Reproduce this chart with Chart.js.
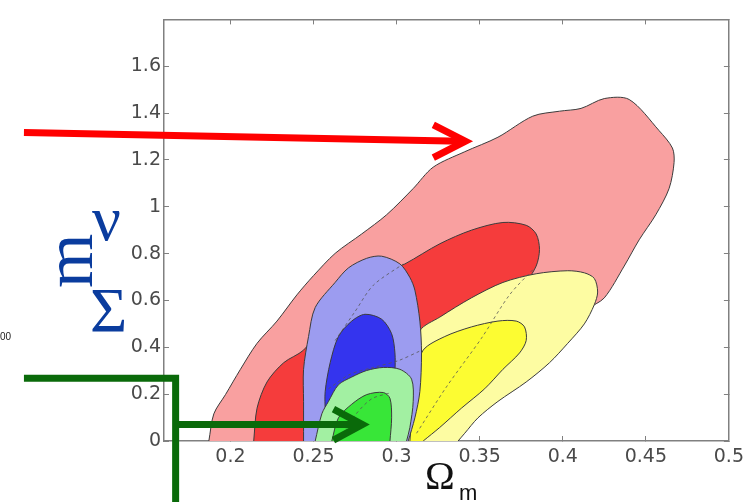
<!DOCTYPE html>
<html>
<head>
<meta charset="UTF-8">
<title>Omega_m vs sum m_nu</title>
<script src="https://cdn.jsdelivr.net/npm/chart.js"></script>
<style>
  body { margin: 0; background: #fff; }
</style>
</head>
<body>
<canvas id="grafico" width="754" height="502"></canvas>
<script>
// contour outlines (x = Omega_m, y = sum m_nu)
const pinkX = [0.187,0.190,0.197,0.206,0.216,0.228,0.240,0.250,0.263,0.279,0.294,0.310,0.322,0.341,0.361,0.382,0.398,0.411,0.425,0.440,0.458,0.466,0.467,0.464,0.456,0.446,0.437,0.425,0.415,0.406,0.392,0.374,0.357,0.339,0.330];
const pinkY = [0,0.116,0.198,0.306,0.417,0.512,0.624,0.706,0.801,0.884,0.966,1.078,1.169,1.235,1.297,1.387,1.408,1.420,1.462,1.458,1.325,1.251,1.189,1.078,0.966,0.859,0.747,0.611,0.562,0.479,0.376,0.273,0.169,0.045,0];

const redX = [0.214,0.216,0.222,0.232,0.244,0.257,0.275,0.292,0.305,0.326,0.345,0.364,0.378,0.384,0.386,0.384,0.378,0.363,0.339,0.322,0.310,0.301,0.295];
const redY = [0,0.140,0.252,0.334,0.388,0.500,0.624,0.714,0.756,0.842,0.900,0.933,0.921,0.884,0.818,0.747,0.685,0.624,0.541,0.458,0.334,0.169,0];

const lightYellowX = [0.304,0.307,0.310,0.314,0.326,0.345,0.364,0.384,0.403,0.413,0.419,0.421,0.419,0.413,0.403,0.392,0.378,0.361,0.349,0.341,0.337];
const lightYellowY = [0,0.169,0.334,0.471,0.529,0.611,0.677,0.714,0.727,0.718,0.694,0.636,0.582,0.500,0.417,0.334,0.252,0.169,0.099,0.033,0];

const yellowX = [0.308,0.310,0.313,0.316,0.329,0.345,0.361,0.372,0.377,0.378,0.374,0.364,0.353,0.339,0.326,0.316];
const yellowY = [0,0.169,0.293,0.388,0.446,0.487,0.512,0.512,0.487,0.429,0.376,0.306,0.223,0.140,0.058,0];

const lightBlueX = [0.244,0.244,0.244,0.247,0.251,0.263,0.271,0.282,0.291,0.302,0.308,0.311,0.314,0.315,0.314,0.311,0.307];
const lightBlueY = [0,0.169,0.306,0.446,0.570,0.677,0.739,0.780,0.789,0.756,0.698,0.644,0.512,0.376,0.211,0.099,0];

const blueX = [0.257,0.257,0.257,0.260,0.265,0.273,0.281,0.291,0.297,0.299,0.299,0.298,0.297];
const blueY = [0,0.128,0.211,0.334,0.446,0.512,0.541,0.520,0.458,0.376,0.293,0.169,0];

const lightGreenX = [0.251,0.255,0.259,0.265,0.273,0.282,0.292,0.302,0.309,0.310,0.308,0.306];
const lightGreenY = [0,0.116,0.169,0.240,0.273,0.301,0.314,0.306,0.264,0.169,0.058,0];

const greenX = [0.261,0.265,0.273,0.282,0.292,0.296,0.297,0.296];
const greenY = [0,0.099,0.157,0.198,0.207,0.182,0.099,0];

// thin dashed curves
const dash1X = [0.263,0.275,0.286,0.304];
const dash1Y = [0.429,0.553,0.665,0.756];
const dash2X = [0.259,0.272,0.286,0.301,0.314];
const dash2Y = [0.223,0.285,0.314,0.343,0.384];
const dash3X = [0.312,0.330,0.351,0.368,0.383];
const dash3Y = [0.033,0.231,0.438,0.624,0.739];
const dash4X = [0.266,0.275,0.285,0.296];
const dash4Y = [0.010,0.110,0.180,0.205];

// arrows drawn over the figure
const redShaftX = [0.0757,0.3391];
const redShaftY = [1.317,1.280];
const redHeadX = [0.3221,0.3414,0.3221];
const redHeadY = [1.350,1.280,1.210];
const greenLineX = [0.0757,0.167,0.167];
const greenLineY = [0.268,0.268,-0.27];
const greenShaftX = [0.167,0.278];
const greenShaftY = [0.070,0.070];
const greenHeadX = [0.262,0.2794,0.262];
const greenHeadY = [0.136,0.070,0.004];

const xTicks = { min: 0.16, max: 0.5, step: 0.05 };
const yTicks = { min: 0, max: 1.8, step: 0.2 };

function pts(xs, ys) {
  return xs.map((x, i) => ({x: x, y: ys[i]}));
}

function region(xs, ys, color) {
  return {
    data: pts(xs, ys), region: color, showLine: true, pointRadius: 0,
    borderColor: '#3c3c3c', borderWidth: 1, tension: 0.3, fill: false
  };
}

function dashed(xs, ys) {
  return {
    data: pts(xs, ys), showLine: true, pointRadius: 0,
    borderColor: '#555', borderWidth: 0.8, borderDash: [3, 3], tension: 0.3, fill: false
  };
}

function arrow(xs, ys, color, w) {
  return {
    data: pts(xs, ys), showLine: true, pointRadius: 0, clip: false,
    borderColor: color, borderWidth: w, borderCapStyle: 'butt', borderJoinStyle: 'miter',
    tension: 0, fill: false
  };
}

// fill each contour with the line's own (scaled) path
const contourFill = {
  id: 'contourFill',
  beforeDatasetDraw(chart, args) {
    const ds = chart.data.datasets[args.index];
    if (!ds.region) return;
    const ctx = chart.ctx, a = chart.chartArea, line = args.meta.dataset;
    if (line.updateControlPoints) line.updateControlPoints(a, 'x');
    ctx.save();
    ctx.beginPath();
    ctx.rect(a.left, a.top, a.right - a.left, a.bottom - a.top);
    ctx.clip();
    ctx.beginPath();
    line.path(ctx);
    ctx.closePath();
    ctx.fillStyle = ds.region;
    ctx.fill();
    ctx.restore();
  }
};

const textLabels = {
  id: 'textLabels',
  afterDraw(chart) {
    const ctx = chart.ctx;
    ctx.save();
    ctx.textBaseline = 'alphabetic';
    ctx.textAlign = 'left';
    ctx.fillStyle = '#111';
    ctx.font = '40px "Liberation Serif"';
    ctx.fillText('Ω', 425, 489);
    ctx.font = '22px "Liberation Sans"';
    ctx.fillText('m', 459, 500);

    ctx.fillStyle = '#0a3c9e';
    ctx.font = '64px "Liberation Serif"';
    ctx.fillText('Σ', 90, 332);
    ctx.fillText('ν', 92, 240);
    ctx.save();
    ctx.translate(92, 288);
    ctx.rotate(-Math.PI / 2);
    ctx.font = '70px "Liberation Serif"';
    ctx.fillText('m', 0, 0);
    ctx.restore();

    ctx.fillStyle = '#222';
    ctx.font = '10px "Liberation Sans"';
    ctx.fillText('00', 0, 340);
    ctx.restore();
  }
};

const tickFont = { family: 'DejaVu Sans', size: 19 };
const axisGray = '#808080';

let chart = new Chart(document.getElementById('grafico').getContext('2d'), {
  type: 'scatter',
  data: {
    datasets: [
      arrow(redShaftX, redShaftY, '#ff0000', 7),
      arrow(redHeadX, redHeadY, '#ff0000', 7),
      arrow(greenLineX, greenLineY, '#0a6a0a', 7),
      arrow(greenShaftX, greenShaftY, '#0a6a0a', 7),
      arrow(greenHeadX, greenHeadY, '#0a6a0a', 7),
      dashed(dash1X, dash1Y),
      dashed(dash2X, dash2Y),
      dashed(dash3X, dash3Y),
      dashed(dash4X, dash4Y),
      region(greenX, greenY, '#38e638'),
      region(lightGreenX, lightGreenY, '#a2f0a2'),
      region(blueX, blueY, '#3434ee'),
      region(lightBlueX, lightBlueY, '#9c9cf0'),
      region(yellowX, yellowY, '#fcfc32'),
      region(lightYellowX, lightYellowY, '#fdfca2'),
      region(redX, redY, '#f53c3c'),
      region(pinkX, pinkY, '#f9a0a0')
    ]
  },
  options: {
    responsive: false,
    devicePixelRatio: 1,
    animation: false,
    events: [],
    layout: { padding: { top: 5, right: 9, left: 0, bottom: 0 } },
    plugins: { legend: { display: false }, tooltip: { enabled: false } },
    scales: {
      x: {
        type: 'linear', position: 'bottom', min: xTicks.min, max: xTicks.max,
        afterFit: s => { s.height = 61; },
        border: { color: axisGray, width: 1.5 },
        grid: { drawOnChartArea: false, tickLength: -5, color: axisGray },
        ticks: {
          stepSize: xTicks.step, includeBounds: false, autoSkip: false, maxRotation: 0,
          padding: 10, color: '#4a4a4a', font: tickFont,
          callback: v => String(Math.round(v * 100) / 100)
        }
      },
      x2: {
        type: 'linear', position: 'top', min: xTicks.min, max: xTicks.max,
        afterFit: s => { s.height = 0; },
        border: { color: axisGray, width: 1.5 },
        grid: { drawOnChartArea: false, tickLength: -5, color: axisGray },
        ticks: { stepSize: xTicks.step, includeBounds: false, display: false }
      },
      y: {
        type: 'linear', position: 'left', min: yTicks.min, max: yTicks.max,
        afterFit: s => { s.width = 164; },
        border: { color: axisGray, width: 1.5 },
        grid: { drawOnChartArea: false, tickLength: -5, color: axisGray },
        ticks: {
          stepSize: yTicks.step, autoSkip: false, padding: 8, color: '#4a4a4a', font: tickFont,
          callback: v => v > 1.75 ? '' : String(Math.round(v * 10) / 10)
        }
      },
      y2: {
        type: 'linear', position: 'right', min: yTicks.min, max: yTicks.max,
        afterFit: s => { s.width = 0; },
        border: { color: axisGray, width: 1.5 },
        grid: { drawOnChartArea: false, tickLength: -5, color: axisGray },
        ticks: { stepSize: yTicks.step, display: false }
      }
    }
  },
  plugins: [contourFill, textLabels]
});
</script>
</body>
</html>
